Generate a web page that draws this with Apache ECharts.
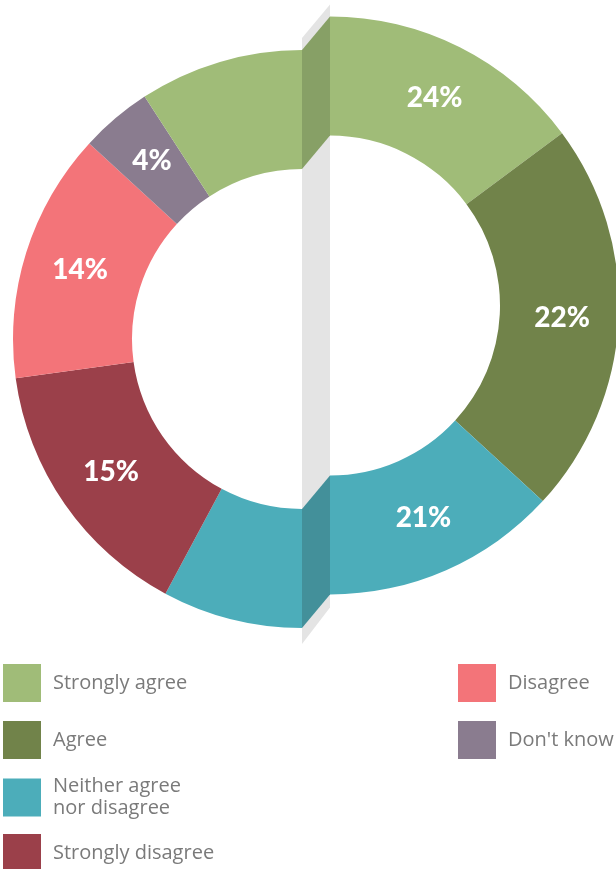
<!DOCTYPE html>
<html>
<head>
<meta charset="utf-8">
<script src="https://cdn.jsdelivr.net/npm/echarts@6/dist/echarts.min.js"></script>
<style>
  html, body {margin: 0; padding: 0; background: #fff;}
  #chart {width: 616px; height: 869px;}
</style>
</head>
<body>
<div id="chart"></div>
<script>
// survey answers, clockwise round the ring
var categories = ['Strongly agree', 'Agree', 'Neither agree\nnor disagree', 'Strongly disagree', 'Disagree', "Don't know"];
var shares = [24, 22, 21, 15, 14, 4];
var colors = ['#a0bc78', '#71834a', '#4cadba', '#9b404a', '#f37479', '#8a7c8f'];
var faceColors = ['#87a066', '#71834a', '#43909a', '#9b404a', '#f37479', '#8a7c8f'];
var leftLegend = ['Strongly agree', 'Agree', 'Neither agree\nnor disagree', 'Strongly disagree'];
var rightLegend = ['Disagree', "Don't know"];
var leftLegendTops = [664, 721, 774, 834];
var rightLegendTops = [664, 721];

var ringStart = -33;   // degrees before 12 o'clock where the ring starts
var rIn = 170, rOut = 289;
var rightCenter = [330, 305.5];
var leftCenter = [302, 339];

// cut every slice at the vertical line: right half is 0..180, left half 180..360
function split_ring(lo, hi) {
    var parts = [];
    var pos = ringStart;
    shares.forEach(function (v, i) {
        var a = pos, b = pos + v * 3.6;
        pos = b;
        [0, 360].forEach(function (shift) {
            var s = Math.max(a + shift, lo), e = Math.min(b + shift, hi);
            if (e > s) parts.push({idx: i, start: s, deg: e - s});
        });
    });
    parts.sort(function (p, q) { return p.start - q.start; });
    return parts;
}
var rightParts = split_ring(0, 180);
var leftParts = split_ring(180, 360);

// label goes on the half that holds the larger piece
function main_half(i) {
    var r = rightParts.filter(p => p.idx === i).reduce((s, p) => s + p.deg, 0);
    var l = leftParts.filter(p => p.idx === i).reduce((s, p) => s + p.deg, 0);
    return r >= l ? 'right' : 'left';
}

function half_data(parts, side) {
    var data = parts.map(function (p) {
        return {
            name: categories[p.idx],
            value: p.deg,
            pct: shares[p.idx],
            itemStyle: {color: colors[p.idx]},
            label: {show: main_half(p.idx) === side}
        };
    });
    data.push({name: '', value: 180, itemStyle: {color: 'rgba(0,0,0,0)'}, label: {show: false}, silent: true});
    return data;
}

function half_series(parts, side, center, start) {
    return {
        type: 'pie',
        center: center,
        radius: [rIn, rOut],
        startAngle: start,
        clockwise: true,
        avoidLabelOverlap: false,
        legendHoverLink: false,
        emphasis: {disabled: true},
        itemStyle: {borderWidth: 0},
        labelLine: {show: false},
        label: {
            position: 'inside',
            color: '#fff',
            fontFamily: 'Lato',
            fontWeight: 900,
            fontSize: 28,
            formatter: function (p) { return p.data.pct + '%'; }
        },
        data: half_data(parts, side),
        z: 3
    };
}

// the cut faces between the two halves
var xl = leftCenter[0], xr = rightCenter[0];
function face(ly1, ly2, ry1, ry2, color, z) {
    return {
        type: 'polygon', z: z, silent: true,
        shape: {points: [[xl, ly1], [xr, ry1], [xr, ry2], [xl, ly2]]},
        style: {fill: color}
    };
}
var topIdx = rightParts[0].idx;
var botIdx = rightParts[rightParts.length - 1].idx;
var graphics = [
    face(leftCenter[1] - rOut - 12, leftCenter[1] + rOut + 16, rightCenter[1] - rOut - 12, rightCenter[1] + rOut + 13, '#e4e4e4', 0),
    face(leftCenter[1] - rOut, leftCenter[1] - rIn, rightCenter[1] - rOut, rightCenter[1] - rIn, faceColors[topIdx], 1),
    face(leftCenter[1] + rIn, leftCenter[1] + rOut, rightCenter[1] + rIn, rightCenter[1] + rOut, faceColors[botIdx], 1)
];

function legend_row(name, left, top) {
    return {
        orient: 'vertical',
        left: left,
        top: top,
        padding: 0,
        icon: 'rect',
        itemWidth: 38,
        itemHeight: 38,
        selectedMode: false,
        data: [name],
        textStyle: {fontFamily: 'Open Sans', fontSize: 20, color: '#7a7a7a', lineHeight: 22, padding: [3, 0, 0, 7]}
    };
}
var legends = leftLegend.map((n, i) => legend_row(n, 3, leftLegendTops[i]))
    .concat(rightLegend.map((n, i) => legend_row(n, 458, rightLegendTops[i])));

var chart = echarts.init(document.getElementById('chart'), null, {renderer: 'canvas'});
chart.setOption({
    animation: false,
    legend: legends,
    graphic: graphics,
    series: [
        half_series(rightParts, 'right', rightCenter, 90),
        half_series(leftParts, 'left', leftCenter, -90)
    ]
});
</script>
</body>
</html>
